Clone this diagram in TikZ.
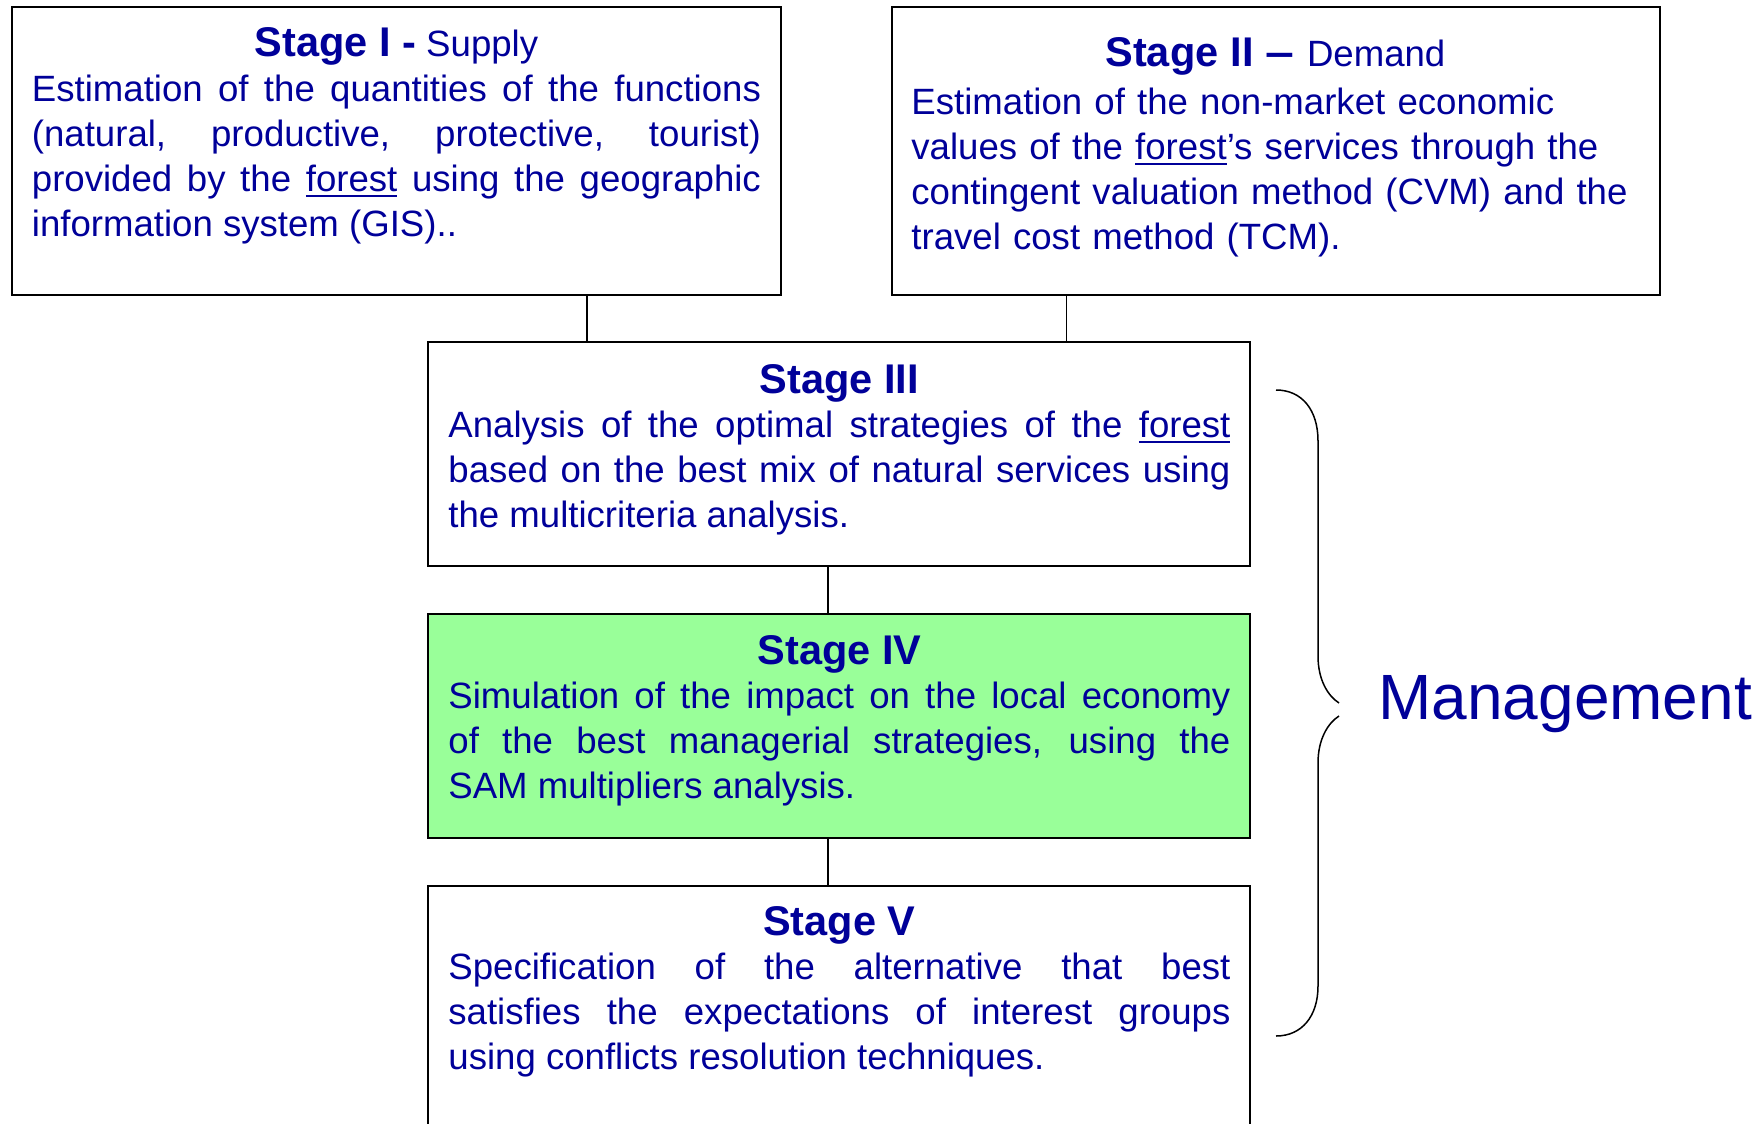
\documentclass[tikz,border=0pt]{standalone}
\usepackage{fontspec}
\setmainfont{Liberation Sans}
\usetikzlibrary{calc}

\definecolor{ink}{RGB}{0,0,153}
\definecolor{stagegreen}{RGB}{153,255,153}

% body and heading sizes
\newcommand\bodysize{\fontsize{18.3pt}{22.4pt}\selectfont}
\newcommand\headsize{\fontsize{20.75pt}{22.4pt}\selectfont\bfseries}
% underlined word
\newcommand\uword[1]{\leavevmode\setbox0\hbox{#1}\rlap{\rule[-2.6pt]{\wd0}{0.9pt}}\box0\relax}
% justified lines with forced breaks
\tolerance=10000
\pretolerance=-1
\hyphenpenalty=10000
\exhyphenpenalty=10000
\hbadness=10000

\tikzset{
  stagebox/.style={draw=black, line width=1pt, rectangle, inner sep=0pt, anchor=north west},
  stagetext/.style={inner sep=0pt, anchor=base west, text=ink, align=justify,
    font=\bodysize, execute at begin node={\bodysize}},
  link/.style={draw=black, line width=0.7pt},
  bracepath/.style={draw=black, line width=0.75pt}
}

\begin{document}
\begin{tikzpicture}[x=0.5pt, y=-0.5pt]
\useasboundingbox (0,0) rectangle (1764,1123);
\clip (0,0) rectangle (1764,1123);

% stage boxes
\node[stagebox, minimum width=384.5pt, minimum height=144pt] (s1) at (11,6) {};
\node[stagebox, minimum width=384pt, minimum height=144pt] (s2) at (891,6) {};
\node[stagebox, minimum width=411pt, minimum height=112pt] (s3) at (427,341) {};
\node[stagebox, fill=stagegreen, minimum width=411pt, minimum height=112pt] (s4) at (427,613) {};
\node[stagebox, minimum width=411pt, minimum height=140pt] (s5) at (427,885) {};

% stage texts
\node[stagetext, text width=364.5pt] (t1) at (31.5,57) {%
  \makebox[\linewidth]{{\headsize Stage I -} Supply}\par
  Estimation of the quantities of the functions\linebreak
  (natural, productive, protective, tourist)\linebreak
  provided by the \uword{forest} using the geographic\linebreak
  information system (GIS)..};

\node[stagetext, align=left, text width=364pt] (t2) at (911,67) {%
  \makebox[\linewidth]{{\headsize Stage II \scalebox{1.25}[1]{–}} Demand}\par
  \vspace{1.5pt}%
  Estimation of the non-market economic\\
  values of the \uword{forest}’s services through the\\
  contingent valuation method (CVM) and the\\
  travel cost method (TCM).};

\node[stagetext, text width=391pt] (t3) at (448,393) {%
  \makebox[\linewidth]{\headsize Stage III}\par
  Analysis of the optimal strategies of the \uword{forest}\linebreak
  based on the best mix of natural services using\linebreak
  the multicriteria analysis.};

\node[stagetext, text width=391pt] (t4) at (448,664) {%
  \makebox[\linewidth]{\headsize Stage IV}\par
  Simulation of the impact on the local economy\linebreak
  of the best managerial strategies, using the\linebreak
  SAM multipliers analysis.};

\node[stagetext, text width=391pt] (t5) at (448,935) {%
  \makebox[\linewidth]{\headsize Stage V}\par
  Specification of the alternative that best\linebreak
  satisfies the expectations of interest groups\linebreak
  using conflicts resolution techniques.};

% connectors
\coordinate (k1) at (587,0);
\coordinate (k2) at (1066.5,0);
\coordinate (k3) at (828,0);
\draw[link] (s1.south -| k1) -- (s3.north -| k1);
\draw[link] (s2.south -| k2) -- (s3.north -| k2);
\draw[link] (s3.south -| k3) -- (s4.north -| k3);
\draw[link] (s4.south -| k3) -- (s5.north -| k3);

% brace spanning stages III to V
\draw[bracepath] (1276,390) .. controls (1302,390) and (1318,410) .. (1318,441)
  -- (1318,656) .. controls (1318,680) and (1328,696) .. (1339,703);
\draw[bracepath] (1339,716) .. controls (1328,723) and (1318,739) .. (1318,763)
  -- (1318,986) .. controls (1318,1016) and (1302,1036) .. (1276,1036);

\node[inner sep=0pt, anchor=base west, text=ink, font=\fontsize{32pt}{36pt}\selectfont] (mg) at (1378,719) {Management};
\end{tikzpicture}
\end{document}
